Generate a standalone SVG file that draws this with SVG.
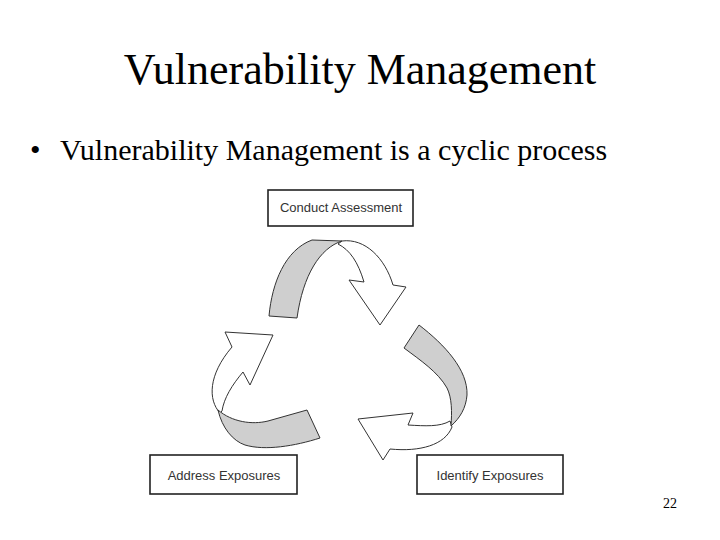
<svg xmlns="http://www.w3.org/2000/svg" width="720" height="540" viewBox="0 0 720 540">
<style>
.title{font-family:"Liberation Serif","Times New Roman",serif;font-size:44px;fill:#000}
.bullet{font-family:"Liberation Serif","Times New Roman",serif;font-size:30px;fill:#000}
.page{font-family:"Liberation Serif","Times New Roman",serif;font-size:14px;fill:#000}
.box{fill:#fff;stroke:#222;stroke-width:1.6}
.lbl{font-family:"Liberation Sans",Arial,sans-serif;font-size:13px;fill:#333;text-anchor:middle}
.w{fill:#fff;stroke:#333;stroke-width:1;stroke-linejoin:round}
.g{fill:#cfcfcf;stroke:#333;stroke-width:1;stroke-linejoin:round}
</style>
<rect width="720" height="540" fill="#fff"/>
<text class="title" x="360" y="84" text-anchor="middle">Vulnerability Management</text>
<text class="bullet" x="30" y="160">•</text>
<text class="bullet" x="60" y="160">Vulnerability Management is a cyclic process</text>
<g id="conduct-assessment">
<rect class="box" x="268" y="190" width="145" height="36"/>
<text class="lbl" x="341" y="212">Conduct Assessment</text>
</g>
<g id="address-exposures">
<rect class="box" x="150" y="455" width="147" height="39"/>
<text class="lbl" x="224" y="480">Address Exposures</text>
</g>
<g id="identify-exposures">
<rect class="box" x="417" y="455" width="146" height="39"/>
<text class="lbl" x="490" y="480">Identify Exposures</text>
</g>
<g id="connectors">
<g id="arrow-assess-to-identify">
<path class="w" d="M342,241 C365,238 385,258 393,285 L406,287 L380,325 L349,280 L364,282 C358,262 350,250 338,244 Z"/>
<path class="g" d="M269,316 C272,283 285,250 312,240 L342,241 C320,248 303,275 297,318 Z"/>
</g>
<g id="arrow-identify-to-address">
<path class="w" d="M450,421 C440,427 425,426 408,425 L413,413 L358,419 L383,460 L390,449 C420,452 445,445 452,427 Z"/>
<path class="g" d="M404,348 L419,325 C445,345 468,370 467,395 C466,408 460,418 451,426 C452,412 452,398 447,388 C438,372 420,360 404,348 Z"/>
</g>
<g id="arrow-address-to-assess">
<path class="w" d="M220,413 C208,400 208,375 232,347 L225,332 L273,335 L250,385 L243,372 C232,385 224,398 222,411 Z"/>
<path class="g" d="M218,410 C232,422 252,425 268,421 L307,410 L320,438 C295,446 265,451 245,445 C233,441 222,428 218,410 Z"/>
</g>
</g>
<text class="page" x="670" y="508" text-anchor="middle">22</text>
</svg>
